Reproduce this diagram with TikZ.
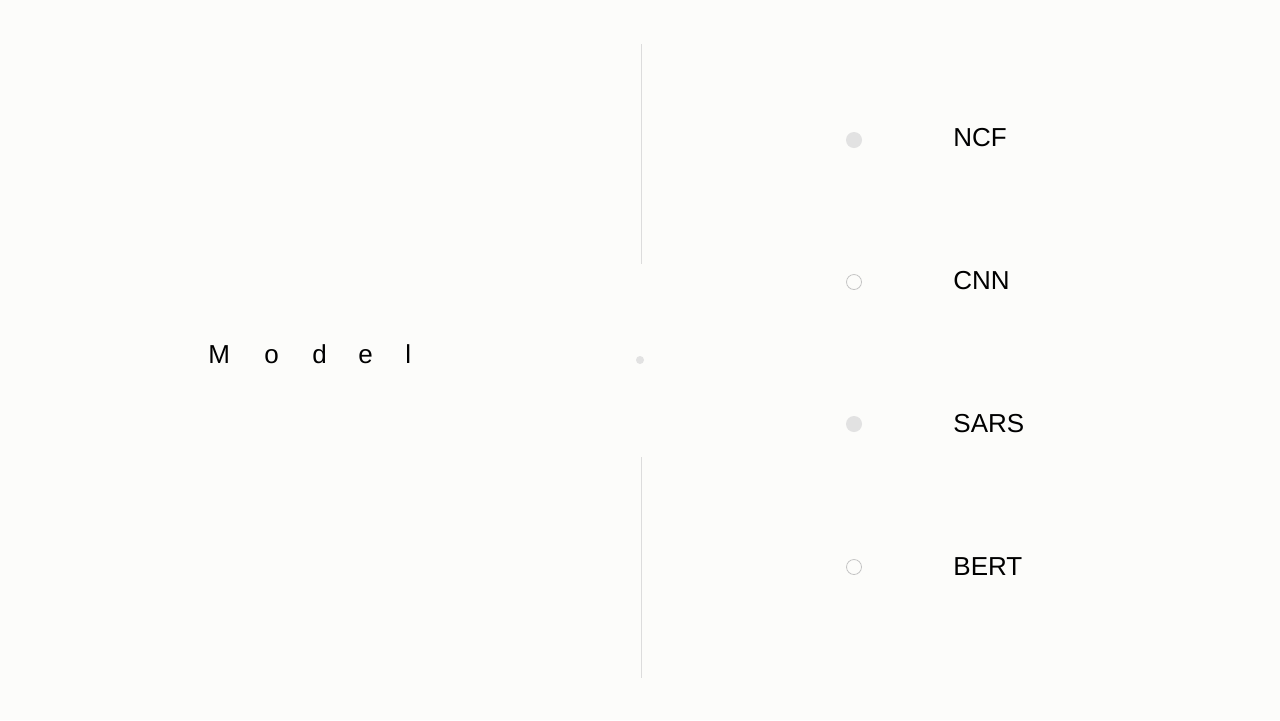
\documentclass[tikz,border=0pt]{standalone}
\usepackage{fontspec}
\setmainfont{Liberation Sans}
\definecolor{paper}{HTML}{FCFCFA}
\definecolor{dotfill}{HTML}{E2E2E2}
\definecolor{ringgray}{HTML}{C4C4C4}
\definecolor{rulegray}{HTML}{DCDCDC}
\tikzset{label text/.style={anchor=west,inner sep=0pt,font=\fontsize{13}{16}\selectfont},
         full dot/.style={circle,fill=dotfill,minimum size=8pt,inner sep=0pt},
         open dot/.style={circle,draw=ringgray,fill=paper,line width=0.4pt,minimum size=7.5pt,inner sep=0pt}}

\begin{document}
\begin{tikzpicture}[x=0.5pt,y=-0.5pt]
                  \fill[paper] (0,0) rectangle (1280,720);
                  \useasboundingbox (0,0) rectangle (1280,720);
                  % divider
                  \coordinate (top-a) at (641,44);
                  \coordinate (top-b) at (641,264);
                  \coordinate (bot-a) at (641,457);
                  \coordinate (bot-b) at (641,678);
                  \draw[rulegray,line width=0.5pt] (top-a) -- (top-b);
                  \draw[rulegray,line width=0.5pt] (bot-a) -- (bot-b);
                  \node[circle,fill=dotfill,minimum size=4pt,inner sep=0pt] (mid) at (640,360) {};
                  % title letters
                  \foreach \ch/\xx [count=\i] in {M/208,o/264,d/312,e/358,l/405}
                      \node[label text,anchor=base west] (m-\i) at (\xx,363) {\ch};
                  % list
                  \node[full dot] (d-ncf) at (854,140) {};
                  \node[label text] (ncf) at (953,138) {NCF};
                  \node[open dot] (d-cnn) at (854,282) {};
                  \node[label text] (cnn) at (953,281) {CNN};
                  \node[full dot] (d-sars) at (854,424) {};
                  \node[label text] (sars) at (953,424) {SARS};
                  \node[open dot] (d-bert) at (854,567) {};
                  \node[label text] (bert) at (953,567) {BERT};
              \end{tikzpicture}
\end{document}
